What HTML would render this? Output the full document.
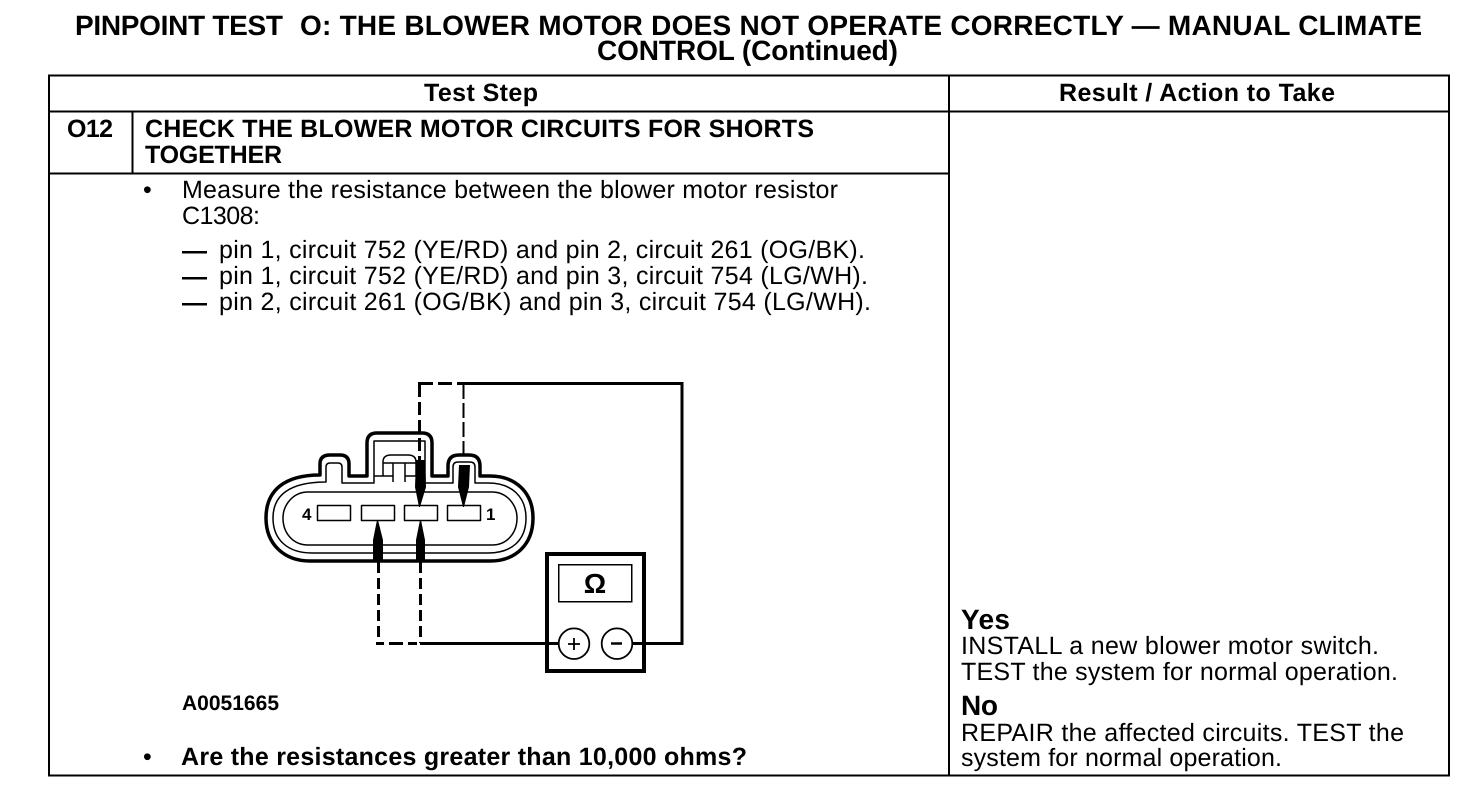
<!DOCTYPE html>
<html><head><meta charset="utf-8"><style>
html,body{margin:0;padding:0;background:#fff}
svg{display:block}
text{font-family:"Liberation Sans",sans-serif;fill:#000}
.b{font-weight:bold;font-size:25px}
.r{font-size:25px}
.t{font-weight:bold;font-size:28px}
</style></head><body>
<svg width="1472" height="790" viewBox="0 0 1472 790" xmlns="http://www.w3.org/2000/svg">
<g text-rendering="geometricPrecision">
<text class="t" x="75" y="35" textLength="208" lengthAdjust="spacing">PINPOINT TEST</text>
<text class="t" x="300" y="35" textLength="1122" lengthAdjust="spacing">O: THE BLOWER MOTOR DOES NOT OPERATE CORRECTLY — MANUAL CLIMATE</text>
<text class="t" x="597" y="60" textLength="301" lengthAdjust="spacing">CONTROL (Continued)</text>
<text class="b" x="424" y="101" textLength="114" lengthAdjust="spacing">Test Step</text>
<text class="b" x="1059" y="101" textLength="276" lengthAdjust="spacing">Result / Action to Take</text>
<text class="b" x="67" y="137" textLength="46" lengthAdjust="spacing">O12</text>
<text class="b" x="145" y="137" textLength="669" lengthAdjust="spacing">CHECK THE BLOWER MOTOR CIRCUITS FOR SHORTS</text>
<text class="b" x="145" y="163" textLength="137" lengthAdjust="spacing">TOGETHER</text>
<text class="r" x="143" y="198">•</text>
<text class="r" x="182" y="198" textLength="656" lengthAdjust="spacing">Measure the resistance between the blower motor resistor</text>
<text class="r" x="182" y="224" textLength="78" lengthAdjust="spacing">C1308:</text>
<text class="b" x="182" y="259" textLength="25" lengthAdjust="spacingAndGlyphs">—</text>
<text class="b" x="182" y="285" textLength="25" lengthAdjust="spacingAndGlyphs">—</text>
<text class="b" x="182" y="311" textLength="25" lengthAdjust="spacingAndGlyphs">—</text>
<text class="r" x="219" y="258" textLength="646" lengthAdjust="spacing">pin 1, circuit 752 (YE/RD) and pin 2, circuit 261 (OG/BK).</text>
<text class="r" x="219" y="284" textLength="649" lengthAdjust="spacing">pin 1, circuit 752 (YE/RD) and pin 3, circuit 754 (LG/WH).</text>
<text class="r" x="219" y="310" textLength="652" lengthAdjust="spacing">pin 2, circuit 261 (OG/BK) and pin 3, circuit 754 (LG/WH).</text>
<text x="182" y="710" font-weight="bold" font-size="21" textLength="97" lengthAdjust="spacing">A0051665</text>
<text class="r" x="143" y="765">•</text>
<text class="b" x="181" y="765" textLength="566" lengthAdjust="spacing">Are the resistances greater than 10,000 ohms?</text>
<text class="t" x="961" y="629" textLength="49" lengthAdjust="spacing">Yes</text>
<text class="r" x="961" y="654" textLength="418" lengthAdjust="spacing">INSTALL a new blower motor switch.</text>
<text class="r" x="961" y="680" textLength="437" lengthAdjust="spacing">TEST the system for normal operation.</text>
<text class="t" x="961" y="715" textLength="37" lengthAdjust="spacing">No</text>
<text class="r" x="961" y="741" textLength="443" lengthAdjust="spacing">REPAIR the affected circuits. TEST the</text>
<text class="r" x="961" y="766" textLength="321" lengthAdjust="spacing">system for normal operation.</text>
</g>
<g stroke="#000" stroke-width="2" fill="none" shape-rendering="crispEdges">
<rect x="49" y="75.5" width="1400" height="700"/>
<path d="M49 111.5H1449M49 173.5H949M132.5 111V173M949 75V775"/>
</g>
<!-- connector -->
<g fill="none" stroke="#000" stroke-linejoin="round">
<path stroke-width="3.5" d="M266 518C266 490 285 475 320 475V464Q320 455 330 455H340Q349 455 349 464V476H367V443Q367 433 377 433H422Q432 433 432 443V476H448V466Q448 455 459 455H469Q480 455 480 466V476H490C515 476 533 492 533 518C533 545 515 561 490 561H310C285 561 266 545 266 518Z"/>
<path stroke-width="1.5" d="M273 518C273 495 290 482 326 482V467Q326 463 330 463H338Q342 463 342 467V483H374V441H425V483H453V467Q453 462 458 462H470Q475 462 475 467V483H488C512 483 526 497 526 518C526 540 512 553 488 553H312C288 553 273 540 273 518Z"/>
<path stroke-width="1.5" d="M308 492H492C507 492 517 505 517 518C517 533 507 545 492 545H308C293 545 283 533 283 518C283 505 293 492 308 492Z"/>
<path stroke-width="1.5" d="M383 476V462Q383 455 391 455H408Q416 455 416 462V476M383 463H416M393 463V482M405 463V482M374 476H393M405 476H416"/>
<g stroke-width="1.5">
<rect x="317.5" y="505.5" width="33" height="15"/>
<rect x="361.5" y="505.5" width="33" height="15"/>
<rect x="404.5" y="505.5" width="33" height="15"/>
<rect x="447.5" y="505.5" width="33" height="15"/>
</g>
</g>
<text x="302" y="520" font-weight="bold" font-size="17">4</text>
<text x="486" y="520" font-weight="bold" font-size="17">1</text>
<!-- probes -->
<g fill="#000" stroke="none">
<path d="M416 460H425L426 487L420 507H419L415 487Z"/>
<path d="M459 465H470L469 487L464 507H463L458 487Z"/>
<path d="M377 520H378L383 540V562H373V540Z"/>
<path d="M420 520H421L425 540V562H416V540Z"/>
</g>
<g fill="none" stroke="#000" shape-rendering="crispEdges">
<path stroke-width="3" stroke-dasharray="13 5" d="M419.5 384V460"/>
<path stroke-width="2" stroke-dasharray="15 4" d="M463.5 384V460"/>
<path stroke-width="3" d="M418 383.5H433M438 383.5H452M457 383.5H682V643.5H632"/>
<path stroke-width="3" stroke-dasharray="11 5" d="M378.5 562V643"/>
<path stroke-width="3" stroke-dasharray="11 5" d="M420.5 562V643"/>
<path stroke-width="3" d="M376 643.5H384M389 643.5H403M408 643.5H417M420 643.5H559"/>
<rect x="547" y="554" width="97" height="117" stroke-width="4"/>
<rect x="558.5" y="564.5" width="73" height="37" stroke-width="1.5"/>
</g>
<text x="595" y="593" text-anchor="middle" font-weight="bold" font-size="28">Ω</text>
<g fill="#fff" stroke="#000" stroke-width="1.8">
<circle cx="574" cy="643.7" r="15.3"/>
<circle cx="617" cy="643.7" r="15.3"/>
</g>
<path d="M574 638V650M568 644H580" stroke="#000" stroke-width="1.8"/>
<path d="M611 643.5H622" stroke="#000" stroke-width="2.5"/>
</svg>
</body></html>
